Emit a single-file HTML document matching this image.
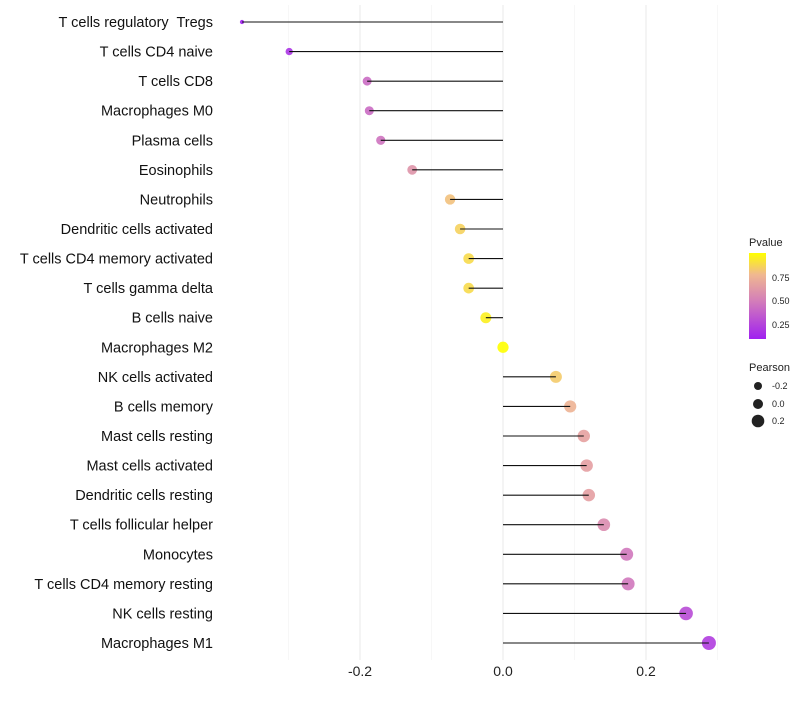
<!DOCTYPE html>
<html><head><meta charset="utf-8"><style>
body{margin:0;background:#fff;font-family:"Liberation Sans",sans-serif}
</style></head><body>
<svg id="chart" width="800" height="700" xmlns="http://www.w3.org/2000/svg">
<defs><linearGradient id="pg" x1="0" y1="1" x2="0" y2="0">
<stop offset="0" stop-color="#a020f0"/><stop offset="0.45" stop-color="#d47fb8"/><stop offset="0.75" stop-color="#f0b890"/><stop offset="1" stop-color="#ffff00"/></linearGradient></defs>
<g id="grid"></g><g id="dots"></g><g id="stems"></g><g id="labels"></g>
<g font-size="9" fill="#222">
<text x="749" y="246" font-size="11">Pvalue</text>
<rect x="749" y="253" width="17" height="86" fill="url(#pg)"/>
<text x="772" y="281">0.75</text><text x="772" y="304">0.50</text><text x="772" y="328">0.25</text>
<text x="749" y="371" font-size="11">Pearson</text>
<circle cx="758" cy="386" r="4"/><text x="772" y="389">-0.2</text>
<circle cx="758" cy="404" r="5"/><text x="772" y="407">0.0</text>
<circle cx="758" cy="421" r="6.3"/><text x="772" y="424">0.2</text>
</g>
</svg>
<script>
const cells=["T cells regulatory\u00a0 Tregs","T cells CD4 naive","T cells CD8","Macrophages M0","Plasma cells","Eosinophils","Neutrophils","Dendritic cells activated","T cells CD4 memory activated","T cells gamma delta","B cells naive","Macrophages M2","NK cells activated","B cells memory","Mast cells resting","Mast cells activated","Dendritic cells resting","T cells follicular helper","Monocytes","T cells CD4 memory resting","NK cells resting","Macrophages M1"];
const pearson=[-0.365,-0.299,-0.190,-0.187,-0.171,-0.127,-0.074,-0.060,-0.048,-0.048,-0.024,0.0,0.074,0.094,0.113,0.117,0.120,0.141,0.173,0.175,0.256,0.288];
const pvalue=[0.1,0.18,0.42,0.42,0.45,0.6,0.8,0.85,0.88,0.88,0.95,1.0,0.83,0.74,0.66,0.65,0.65,0.56,0.47,0.47,0.28,0.22];
const xticks=[-0.2,0,0.2];
const xtickLabels=["-0.2","0.0","0.2"];
const NS="http://www.w3.org/2000/svg";
const X=v=>503+v*715;
const Y=i=>22+i*(621/21);
const R=v=>Math.sqrt(Math.max(3,31.5+60.7*v))*(v<-0.33?0.7:1);
function col(p){
 const stops=[[0.095,[160,32,240]],[0.5,[212,127,184]],[0.77,[240,184,144]],[1.0,[255,255,0]]];
 p=Math.max(0.095,Math.min(1,p));
 for(let k=0;k<stops.length-1;k++){const a=stops[k],b=stops[k+1];if(p<=b[0]){const t=(p-a[0])/(b[0]-a[0]);return"rgb("+a[1].map((c,j)=>Math.round(c+(b[1][j]-c)*t)).join(",")+")";}}
 return"rgb(255,255,0)";
}
function mk(t,at,parent){const e=document.createElementNS(NS,t);for(const k in at)e.setAttribute(k,at[k]);document.getElementById(parent).appendChild(e);return e;}
[-0.3,-0.1,0.1,0.3].forEach(v=>{const e=mk("line",{x1:X(v),x2:X(v),y1:5,y2:660,stroke:"#f2f2f2","stroke-width":0.6},"grid");

});
xticks.forEach((v,i)=>{const e=mk("line",{x1:X(v),x2:X(v),y1:5,y2:660,stroke:"#ebebeb","stroke-width":1.1},"grid");


const t=mk("text",{x:X(v),y:676,"text-anchor":"middle","font-size":14,fill:"#222"},"labels");t.textContent=xtickLabels[i];

});
cells.forEach((c,i)=>{
 const d=mk("circle",{cx:X(pearson[i]),cy:Y(i),r:R(pearson[i]),fill:col(pvalue[i]),"fill-opacity":0.9},"dots");
 
 
 const l=mk("line",{x1:X(0),x2:X(pearson[i]),y1:Y(i),y2:Y(i),stroke:"#111","stroke-width":1.1},"stems");
 
 
 const t=mk("text",{x:213,y:Y(i)+5,"text-anchor":"end","font-size":14.5,fill:"#111"},"labels");t.textContent=c;
 
 
});
</script>
</body></html>
